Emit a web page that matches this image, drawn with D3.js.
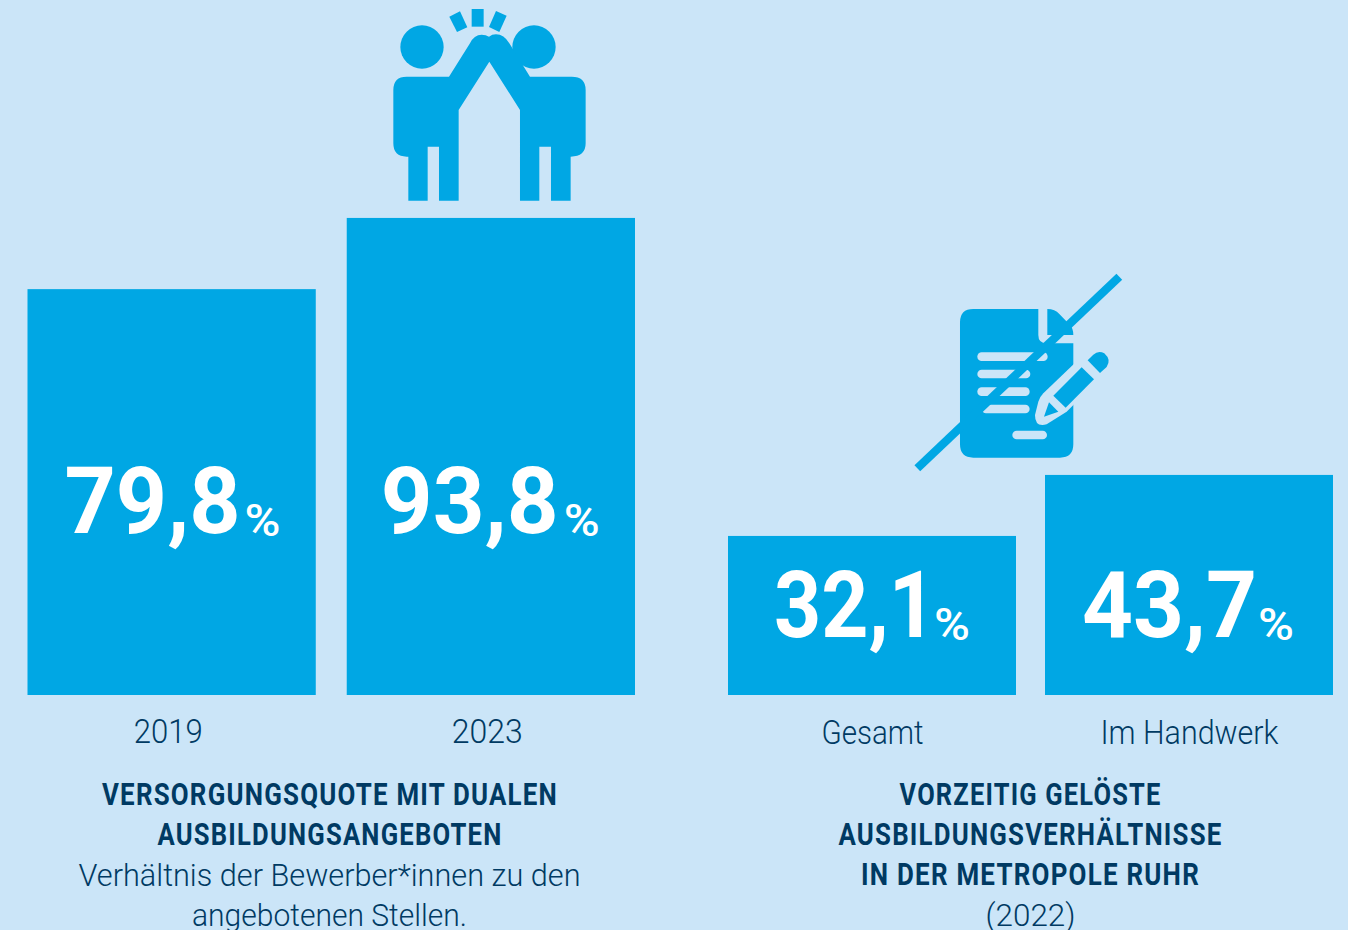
<!DOCTYPE html>
<html>
<head>
<meta charset="utf-8">
<script src="https://cdn.jsdelivr.net/npm/d3@7"></script>
<style>
  html, body { margin: 0; padding: 0; background: #cbe5f8; overflow: hidden; }
  svg { display: block; }
</style>
</head>
<body>
<svg></svg>
<script>
// values
var quoteYears = ["2019", "2023"];
var quoteValues = [79.8, 93.8];
var loesungLabels = ["Gesamt", "Im Handwerk"];
var loesungValues = [32.1, 43.7];

var leftTitle = ["VERSORGUNGSQUOTE MIT DUALEN", "AUSBILDUNGSANGEBOTEN"];
var leftNote = ["Verhältnis der Bewerber*innen zu den", "angebotenen Stellen."];
var rightTitle = ["VORZEITIG GELÖSTE", "AUSBILDUNGSVERHÄLTNISSE", "IN DER METROPOLE RUHR"];
var rightNote = ["(2022)"];

var svgWidth = 1348;
var svgHeight = 930;
var baseline = 695;
var blue = "#00a7e4";
var light = "#cbe5f8";
var navy = "#003a63";
var font = "Roboto, 'Liberation Sans', sans-serif";

var svg = d3.select("svg")
  .attr("width", svgWidth)
  .attr("height", svgHeight);

svg.append("rect")
  .attr("width", svgWidth)
  .attr("height", svgHeight)
  .attr("fill", light);

// draws one pair of bars with value labels and the category axis
function barGroup(labels, values, opts) {
  var x = d3.scaleBand()
    .domain(labels)
    .range(opts.xRange)
    .paddingInner(opts.gap)
    .paddingOuter(0);

  // the original bars are not quite zero based, hence yStart
  var y = d3.scaleLinear()
    .domain([opts.yStart, 100])
    .range([baseline, baseline - opts.yPixels]);

  var g = svg.append("g");

  g.selectAll("rect")
    .data(values)
    .enter()
    .append("rect")
    .attr("x", function(d, i) { return x(labels[i]); })
    .attr("y", function(d) { return y(d); })
    .attr("width", x.bandwidth())
    .attr("height", function(d) { return baseline - y(d); })
    .attr("fill", blue);

  var valueText = g.selectAll("text.value")
    .data(values)
    .enter()
    .append("text")
    .attr("class", "value")
    .attr("x", function(d, i) { return x(labels[i]) + opts.valueDx[i]; })
    .attr("y", opts.valueY)
    .attr("fill", "#fff")
    .attr("font-family", font)
    .attr("font-weight", 700);

  valueText.append("tspan")
    .attr("font-size", opts.valueSize)
    .attr("textLength", function(d, i) { return opts.valueWidth[i]; })
    .attr("lengthAdjust", "spacingAndGlyphs")
    .text(function(d) { return String(d).replace(".", ","); });

  valueText.append("tspan")
    .attr("font-size", 45)
    .attr("font-weight", 500)
    .attr("dx", function(d, i) { return opts.pctDx[i]; })
    .attr("y", opts.valueY + 3)
    .attr("textLength", 36)
    .attr("lengthAdjust", "spacingAndGlyphs")
    .text("%");

  var axis = d3.axisBottom(x).tickSize(0).tickPadding(0);
  var axisG = g.append("g")
    .attr("transform", "translate(" + opts.axisDx + "," + opts.axisY + ")")
    .call(axis);
  axisG.select(".domain").remove();
  axisG.selectAll("text")
    .attr("font-family", font)
    .attr("font-weight", 300)
    .attr("font-size", 33)
    .attr("fill", navy)
    .attr("dy", 0)
    .attr("y", 0)
    .attr("textLength", function(d, i) { return opts.labelWidths[i]; })
    .attr("lengthAdjust", "spacingAndGlyphs");
}

barGroup(quoteYears, quoteValues, {
  xRange: [27.5, 635], gap: 0.097, yStart: 0, yPixels: 508.6,
  valueDx: [37, 34], valueY: 533, valueSize: 92, valueWidth: [176, 178],
  pctDx: [-1, 2],
  axisDx: -3.5, axisY: 743, labelWidths: [69, 71]
});

barGroup(loesungLabels, loesungValues, {
  xRange: [728, 1333], gap: 0.0915, yStart: 1.86, yPixels: 516.2,
  valueDx: [46, 37], valueY: 637, valueSize: 92, valueWidth: [162, 175],
  pctDx: [-21, -5],
  axisDx: 0.5, axisY: 744, labelWidths: [102, 178]
});

// centred text lines, squeezed to the narrow widths of the original type
function textLines(lines, cx, startY, widths, weight, spacing) {
  svg.append("g").selectAll("text")
    .data(lines)
    .enter()
    .append("text")
    .attr("x", cx)
    .attr("y", function(d, i) { return startY + i * 40; })
    .attr("text-anchor", "middle")
    .attr("font-family", font)
    .attr("font-weight", weight)
    .attr("font-size", 32)
    .attr("letter-spacing", spacing)
    .attr("fill", navy)
    .attr("textLength", function(d, i) { return widths[i]; })
    .attr("lengthAdjust", "spacingAndGlyphs")
    .text(function(d) { return d; });
}

textLines(leftTitle, 330, 805, [456, 345], 700, 1.5);
textLines(leftNote, 329.5, 886, [502, 275], 300, 0);
textLines(rightTitle, 1030.5, 805, [262, 384, 339], 700, 1.5);
textLines(rightNote, 1030.5, 926, [90], 300, 0);

// high five icon, drawn in a 3x grid
var five = svg.append("g")
  .attr("transform", "translate(380,0) scale(0.3333)")
  .attr("fill", blue);

five.append("circle").attr("cx", 126).attr("cy", 141).attr("r", 65);
five.append("circle").attr("cx", 462).attr("cy", 141).attr("r", 65);
five.append("path").attr("d", "M275,27H311V80H275Z");
five.append("path").attr("d", "M208,50L240,34L262,82L231,96Z");
five.append("path").attr("d", "M348,33L380,47L358,96L327,81Z");
five.append("path").attr("d",
  "M85,602V470H80Q40,470 40,430V270Q40,230 80,230H207L270,130Q282,104 305,104Q318,104 327,110" +
  "Q336,103 348,103Q372,103 388,130L450,230H575Q617,230 617,270V430Q617,470 572,470V602H513V440H478V602H420" +
  "V330L328,185L236,330V602H177V440H143V602Z");

// document icon with strike through, same grid
var doc = svg.append("g")
  .attr("transform", "translate(900,265) scale(0.3333)");

doc.append("path")
  .attr("fill", blue)
  .attr("d", "M220,132H415V210Q415,235 440,235H520V538Q520,578 480,578H220Q180,578 180,538V172Q180,132 220,132Z");
doc.append("path")
  .attr("fill", blue)
  .attr("d", "M442,132Q465,132 478,147L510,180Q520,190 520,210H442Z");

doc.append("g")
  .attr("stroke", light)
  .attr("stroke-width", 26)
  .attr("stroke-linecap", "round")
  .selectAll("line")
  .data([[245, 275, 430], [245, 327, 378], [245, 380, 376], [258, 432, 376], [350, 510, 428]])
  .enter()
  .append("line")
  .attr("x1", function(d) { return d[0]; })
  .attr("y1", function(d) { return d[1]; })
  .attr("x2", function(d) { return d[2]; })
  .attr("y2", function(d) { return d[1]; });

doc.append("line")
  .attr("x1", 52).attr("y1", 610)
  .attr("x2", 658).attr("y2", 35)
  .attr("stroke", blue)
  .attr("stroke-width", 25);

// pencil: light halo first, then the blue parts
doc.append("path")
  .attr("fill", light)
  .attr("d", "M430,385L560,260L640,300L500,440L440,478Q405,488 405,450L415,410Q420,395 430,385Z");
doc.append("path")
  .attr("fill", blue)
  .attr("d", "M460,392L545,307L582,343L497,428Z");
doc.append("path")
  .attr("fill", blue)
  .attr("d", "M563,286L580,269Q595,255 613,265Q635,285 620,306L600,324Z");
doc.append("path")
  .attr("fill", blue)
  .attr("d", "M447,412L475,440L432,455Z");
</script>
</body>
</html>
